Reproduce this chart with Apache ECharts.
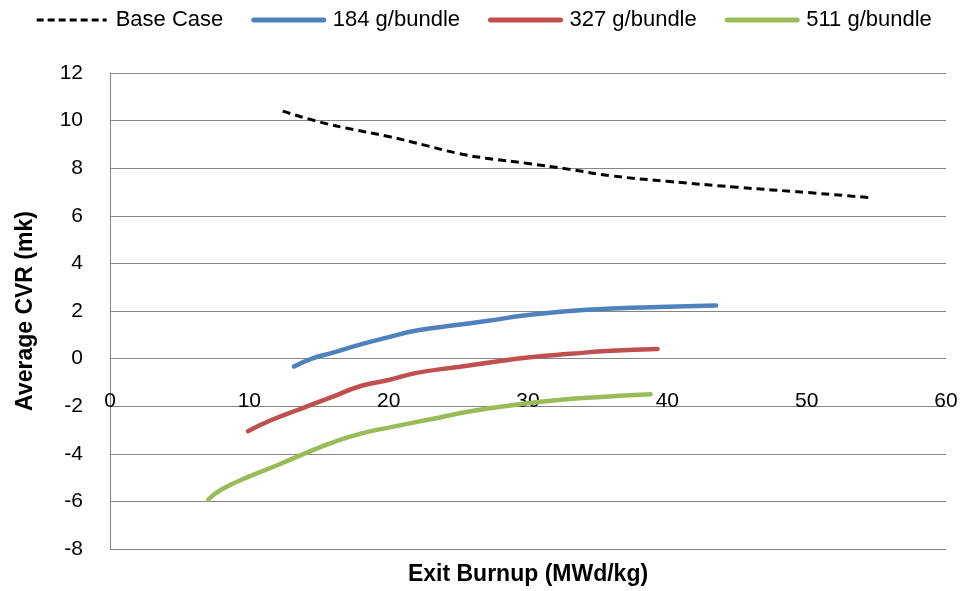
<!DOCTYPE html>
<html>
<head>
<meta charset="utf-8">
<script src="https://cdn.jsdelivr.net/npm/echarts@6/dist/echarts.min.js"></script>
<style>html,body{margin:0;padding:0;background:#fff;}#c{width:967px;height:591px;}</style>
</head>
<body>
<div id="c"></div>
<script>
const seriesNames = ['Base Case', '184 g/bundle', '327 g/bundle', '511 g/bundle'];
const baseCase = [[12.4,10.4],[15,9.95],[17.5,9.62],[20,9.33],[22.5,8.98],[25,8.62],[27,8.42],[30,8.2],[33,7.95],[36,7.68],[40,7.45],[45,7.2],[50,6.98],[54.6,6.76]];
const g184 = [[13.2,-0.33],[14.5,0],[16,0.25],[18,0.6],[20,0.9],[22,1.18],[25,1.42],[27,1.58],[30,1.83],[33,2.0],[36,2.1],[40,2.18],[43.5,2.23]];
const g327 = [[9.9,-3.05],[11.5,-2.6],[13.5,-2.15],[16,-1.6],[18,-1.15],[20,-0.9],[22,-0.6],[25,-0.35],[28,-0.1],[30,0.05],[33,0.2],[36,0.33],[39.3,0.4]];
const g511 = [[7.05,-5.92],[8,-5.5],[10,-4.95],[12,-4.48],[14,-3.98],[16,-3.52],[18,-3.15],[20,-2.9],[23,-2.55],[26,-2.2],[29,-1.95],[32,-1.75],[35,-1.62],[38.8,-1.5]];
const xTicks = {min: 0, max: 60, interval: 10};
const yTicks = {min: -8, max: 12, interval: 2};
const colors = ['#000000', '#4F81BD', '#C0504D', '#9BBB59'];
const dataSets = [baseCase, g184, g327, g511];

const font = 'Liberation Sans, Arial, sans-serif';
const chart = echarts.init(document.getElementById('c'), null, {renderer: 'canvas'});
chart.setOption({
  animation: false,
  backgroundColor: '#ffffff',
  textStyle: {fontFamily: font},
  legend: {
    top: 4, left: 'center',
    itemWidth: 70, itemHeight: 14, itemGap: 28,
    itemStyle: {opacity: 0},
    textStyle: {fontSize: 22, color: '#000', fontFamily: font, padding: [0, 0, 0, 4]},
    data: seriesNames.map((n, i) => ({
      name: n,
      lineStyle: i === 0 ? {width: 3, type: [7, 4], color: colors[i]} : {width: 5, color: colors[i], cap: 'round'}
    }))
  },
  grid: {left: 110, right: 21, top: 73, bottom: 40, containLabel: false},
  xAxis: {
    type: 'value', min: xTicks.min, max: xTicks.max, interval: xTicks.interval,
    name: 'Exit Burnup (MWd/kg)', nameLocation: 'middle', nameGap: 14,
    nameTextStyle: {fontSize: 23, fontWeight: 'bold', color: '#000', fontFamily: font},
    axisLine: {show: false}, axisTick: {show: false},
    splitLine: {show: false},
    axisLabel: {fontSize: 21, color: '#000', margin: -158, fontFamily: font}
  },
  yAxis: {
    type: 'value', min: yTicks.min, max: yTicks.max, interval: yTicks.interval,
    name: 'Average CVR (mk)', nameLocation: 'middle', nameGap: 73, nameRotate: 90,
    nameTextStyle: {fontSize: 23, fontWeight: 'bold', color: '#000', fontFamily: font},
    axisLine: {show: true, lineStyle: {color: '#868686', width: 1}},
    axisTick: {show: false},
    splitLine: {show: true, lineStyle: {color: '#868686', width: 1}},
    axisLabel: {fontSize: 21, color: '#000', margin: 27, fontFamily: font}
  },
  series: seriesNames.map((n, i) => ({
    name: n, type: 'line', smooth: true, symbol: 'none',
    data: dataSets[i],
    lineStyle: i === 0 ? {color: colors[i], width: 3, type: [8, 5]} : {color: colors[i], width: 4.5, cap: 'round'},
    itemStyle: {color: colors[i]}
  }))
});
</script>
</body>
</html>
